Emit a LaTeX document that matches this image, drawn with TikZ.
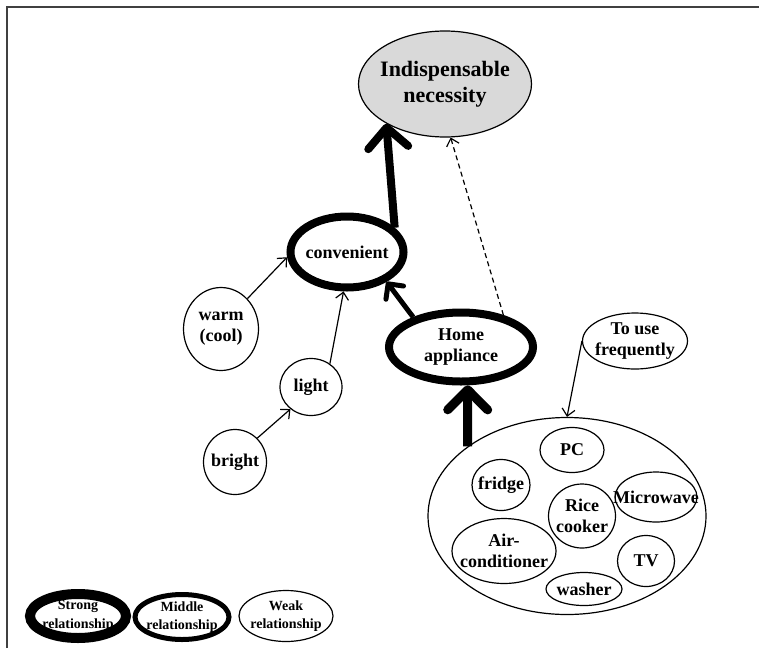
\documentclass[tikz,border=0pt]{standalone}
\usepackage{fontspec}
\setmainfont{Liberation Serif}
\usetikzlibrary{arrows.meta,shapes}
\tikzstyle{vertex}=[ellipse,draw,line width=1.2pt,inner sep=-30pt,align=center]
\tikzstyle{strongvertex}=[vertex,line width=8pt]
\tikzstyle{edge} = [draw,line width=1.2pt,-{Straight Barb[length=7pt,width=13pt]}]
\tikzstyle{strongedge} = [draw,line width=8pt,-{Straight Barb[length=20pt,width=40pt,round]}]
\tikzstyle{middleedge} = [draw,line width=5pt,-{Straight Barb[length=11pt,width=22pt,round]}]
\tikzstyle{small} = [font=\fontsize{14}{18.5}\selectfont\bfseries]

\begin{document}
\begin{tikzpicture}[x=1pt,y=-1pt,font=\fontsize{18}{21}\selectfont\bfseries]
    \useasboundingbox (0,0) rectangle (759,648);
    % frame
    \draw[line width=2pt,black!75] (7,648) -- (7,7) -- (759,7);

    % First we draw the vertices
    \node[vertex,fill=black!15,minimum width=173pt,minimum height=106pt,
          font=\fontsize{22}{26}\selectfont\bfseries] (necessity) at (445,84) {Indispensable\\necessity};
    \node[strongvertex,minimum width=113pt,minimum height=71pt] (convenient) at (347,252) {convenient};
    \node[strongvertex,minimum width=144pt,minimum height=69pt] (home) at (461,347) {Home\\appliance};

    \foreach \pos/\name/\txt/\w/\h in {{(221,329)/warm/{warm\\(cool)}/75/83},
        {(311,387)/light/light/62/57}, {(235,462)/bright/bright/63/65},
        {(567,516)/group/{}/278/197}, {(635,341)/freq/{To use\\frequently}/105/56}}
        \node[vertex,minimum width=\w pt,minimum height=\h pt] (\name) at \pos {\txt};

    % the appliances inside the big ellipse
    \foreach \pos/\name/\txt/\w/\h in {{(572,450)/pc/PC/64/45},
        {(501,485)/fridge/fridge/58/51}, {(582,516)/rice/{Rice\\cooker}/67/64},
        {(656,497)/micro/Microwave/82/50}, {(504,551)/aircon/{Air-\\conditioner}/104/65},
        {(646,561)/tv/TV/57/51}, {(584,589)/washer/washer/76/33}}
        \node[vertex,minimum width=\w pt,minimum height=\h pt] (\name) at \pos {\txt};

    % Connect vertices with edges
    \path[strongedge] (convenient.27) -- (necessity.-146);
    \path[strongedge,line width=9pt] (group.145) -- (home.-80);
    \path[middleedge] (home.148) -- (convenient.-37);
    \path[edge,dash pattern=on 5pt off 3.5pt] (home.37) -- (necessity.-84);

    \foreach \source/ \dest in {warm.49/convenient.185, light.51/convenient.-95,
        bright.47/light.227, freq.180/group.90}
        \path[edge] (\source) -- (\dest);

    % legend
    \node[vertex,small,line width=10pt,minimum width=96pt,minimum height=44pt] (strong) at (78,616) {Strong\\relationship};
    \node[vertex,small,line width=5pt,minimum width=94pt,minimum height=45pt] (middle) at (182,617) {Middle\\relationship};
    \node[vertex,small,minimum width=94pt,minimum height=51pt] (weak) at (286,616) {Weak\\relationship};
\end{tikzpicture}
\end{document}
